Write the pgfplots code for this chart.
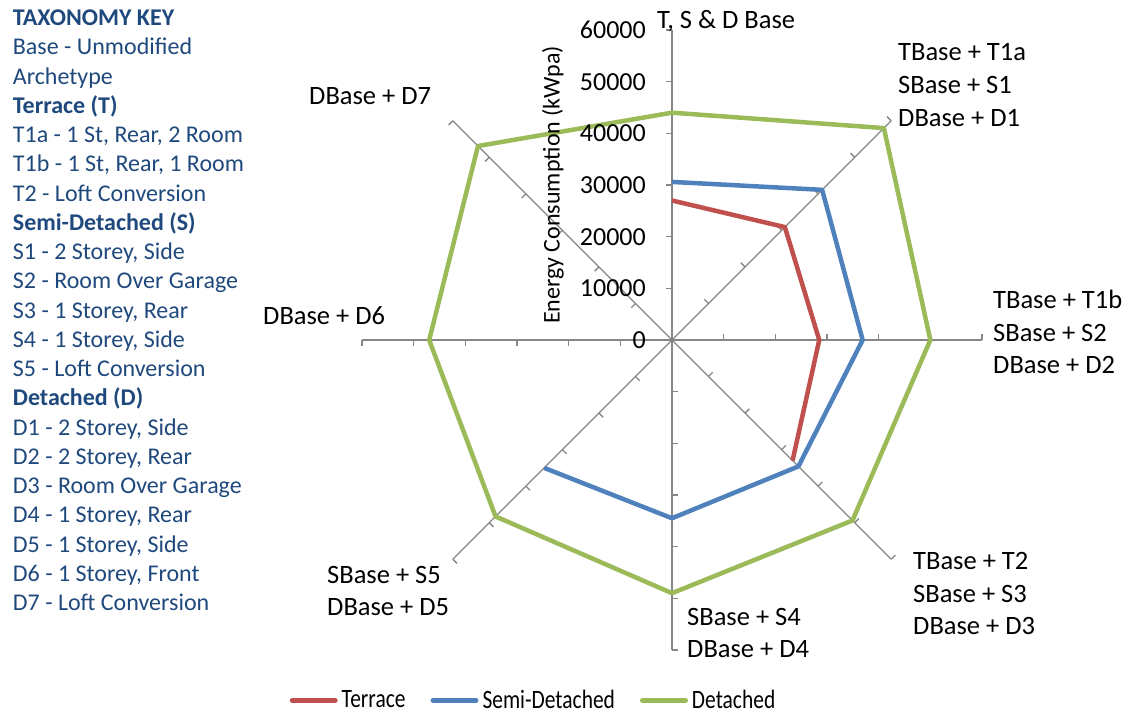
\documentclass[border=0pt]{standalone}
\usepackage{pgfplots}
\pgfplotsset{compat=1.18}
\usepackage{graphicx}
\usepackage{fontspec}
\setmainfont{Carlito}
\definecolor{cT}{HTML}{C0504D}
\definecolor{cS}{HTML}{4F81BD}
\definecolor{cD}{HTML}{9BBB59}
\definecolor{spk}{HTML}{868686}
\definecolor{keyc}{HTML}{1F497D}
\newcommand{\sq}[1]{\scalebox{0.81}[1]{#1}}
\begin{document}
\begin{tikzpicture}[font=\fontsize{26.5}{32.5}\selectfont]
\useasboundingbox (0pt,0pt) rectangle (1133pt,-715pt);
% spoke ticks
\foreach \a in {0,45,...,315}
  \foreach \r in {1,...,6}
    \draw[spk, line width=1.3pt] (672pt,-340pt) ++(\a:\r*51.6667pt) -- ++(\a+90:6pt);
\begin{axis}[at={(672pt,-340pt)}, anchor=center, width=620pt, height=620pt,
  scale only axis, xmin=-60000, xmax=60000, ymin=-60000, ymax=60000,
  hide axis, clip=false,
  legend columns=3,
  legend style={at={(0.275,-0.081)}, anchor=center, draw=none, fill=none,
    font=\fontsize{26.5}{32}\selectfont, inner sep=0pt,
    nodes={inner sep=0pt},
    /tikz/every odd column/.append style={column sep=4pt},
    /tikz/every even column/.append style={column sep=25pt}},
  legend image code/.code={\draw[#1, line width=5pt, line cap=round] (0pt,0pt) -- (43pt,0pt);},
]
\pgfplotsinvokeforeach{0,45,90,135,180,225,270,315}{
  \addplot[spk, line width=1.3pt, forget plot, data cs=polar] coordinates {(#1,0) (#1,60000)};
}
\addplot[cT, line width=4.5pt, line join=round, data cs=polar] coordinates {
  (90,27000) (45,30900) (0,28500) (-45,33000)};
\addlegendentry{\sq{Terrace}}
\addplot[cS, line width=4.5pt, line join=round, data cs=polar] coordinates {
  (90,30600) (45,41100) (0,36900) (-45,34600) (-90,34500) (-135,35000)};
\addlegendentry{\sq{Semi-Detached}}
\addplot[cD, line width=4.5pt, line join=round, data cs=polar] coordinates {
  (90,44000) (45,58000) (0,50000) (-45,49400) (-90,49000) (-135,48300) (180,47000) (135,53100) (90,44000)};
\addlegendentry{\sq{Detached}}
\end{axis}
% value labels on the vertical spoke
\foreach \v [count=\i from 0] in {0,10000,20000,30000,40000,50000,60000}
  \node[anchor=east, inner sep=0pt, font=\fontsize{26}{31}\selectfont] at (646pt, {-340pt + \i*51.6667pt}) {\v};
\node[rotate=90, inner sep=0pt, font=\fontsize{24}{29}\selectfont] at (553pt,-185pt) {Energy Consumption (kWpa)};
% category labels
\begin{scope}[every node/.style={anchor=base west, inner sep=0pt}]
\node at (657pt,-28.5pt) {T, S \& D Base};
\node at (898pt,-60.5pt) {TBase + T1a};
\node at (898pt,-93.5pt) {SBase + S1};
\node at (898pt,-126.5pt) {DBase + D1};
\node at (993pt,-308.5pt) {TBase + T1b};
\node at (993pt,-341.5pt) {SBase + S2};
\node at (993pt,-373.5pt) {DBase + D2};
\node at (913pt,-569.5pt) {TBase + T2};
\node at (913pt,-602.5pt) {SBase + S3};
\node at (913pt,-634.5pt) {DBase + D3};
\node at (687pt,-625.5pt) {SBase + S4};
\node at (687pt,-657.5pt) {DBase + D4};
\node at (327pt,-583.5pt) {SBase + S5};
\node at (327pt,-615.5pt) {DBase + D5};
\node at (263pt,-324.5pt) {DBase + D6};
\node at (309pt,-104.5pt) {DBase + D7};
% taxonomy key
\foreach \t [count=\i from 0] in {{\bfseries TAXONOMY KEY},{Base - Unmodified},{Archetype},{\bfseries Terrace (T)},
  {T1a - 1 St, Rear, 2 Room},{T1b - 1 St, Rear, 1 Room},{T2 - Loft Conversion},{\bfseries Semi-Detached (S)},
  {S1 - 2 Storey, Side},{S2 - Room Over Garage},{S3 - 1 Storey, Rear},{S4 - 1 Storey, Side},{S5 - Loft Conversion},
  {\bfseries Detached (D)},{D1 - 2 Storey, Side},{D2 - 2 Storey, Rear},{D3 - Room Over Garage},{D4 - 1 Storey, Rear},
  {D5 - 1 Storey, Side},{D6 - 1 Storey, Front},{D7 - Loft Conversion}}
  \node[text=keyc, font=\fontsize{24}{29}\selectfont] at (12.7pt, {-25.7pt - \i*29.25pt}) {\t};
\end{scope}
\end{tikzpicture}
\end{document}
